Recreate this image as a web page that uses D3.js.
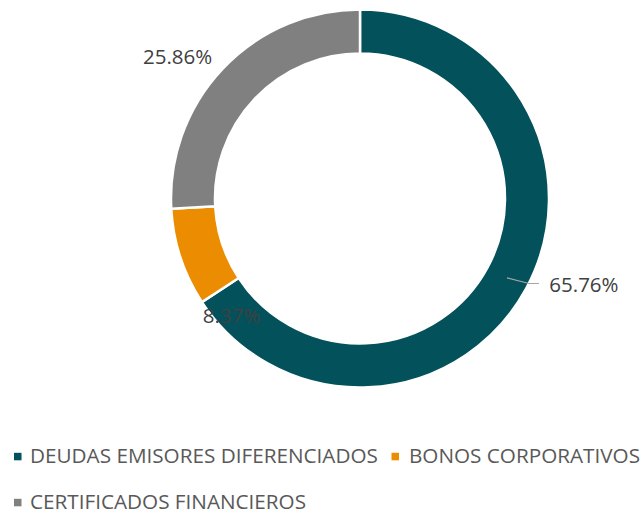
<!DOCTYPE html>
<html><head><meta charset="utf-8">
<script src="https://cdn.jsdelivr.net/npm/d3@7"></script>
<style>body{margin:0;background:#fff}svg{display:block}</style>
</head><body>
<script>
const categories = ["DEUDAS EMISORES DIFERENCIADOS", "BONOS CORPORATIVOS", "CERTIFICADOS FINANCIEROS"];
const values = [65.76, 8.37, 25.86];
const labels = ["65.76%", "8.37%", "25.86%"];
const colors = ["#03515b", "#ec8c00", "#808080"];

const W = 643, H = 514;
const svg = d3.select("body").append("svg").attr("width", W).attr("height", H);
const cx = 360, cy = 198.5, rOut = 189, rIn = 145;
const g = svg.append("g").attr("transform", `translate(${cx},${cy})`);
const pie = d3.pie().sort(null).value(d => d)(values);
const arc = d3.arc().innerRadius(rIn).outerRadius(rOut);
g.selectAll("path").data(pie).join("path")
  .attr("d", arc).attr("fill", (d, i) => colors[i])
  .attr("stroke", "#fff").attr("stroke-width", 2.5);

const font = "'Open Sans', sans-serif";
// leader line for first label
const a0 = (pie[0].startAngle + pie[0].endAngle) / 2;
const midR = (rIn + rOut) / 2;
const p1 = [midR * Math.sin(a0), -midR * Math.cos(a0)];
g.append("polyline")
  .attr("points", [p1, [169, 85], [179, 85]].map(p => p.join(",")).join(" "))
  .attr("fill", "none").attr("stroke", "#a6a6a6").attr("stroke-width", 1.2);

const labelPos = [[189.3, 93.2], [-157.3, 124.8], [-217, -134.5]];
g.selectAll("text.lbl").data(labels).join("text").attr("class", "lbl")
  .attr("x", (d, i) => labelPos[i][0]).attr("y", (d, i) => labelPos[i][1])
  .attr("font-family", font).attr("font-size", 20.5).attr("fill", "#404040")
  .text(d => d);

// legend
const legPos = [[14, 463.3], [391.5, 463.3], [14, 509.3]];
const lg = svg.selectAll("g.leg").data(categories).join("g").attr("class", "leg")
  .attr("transform", (d, i) => `translate(${legPos[i][0]},${legPos[i][1]})`);
lg.append("rect").attr("x", 0).attr("y", -10.5).attr("width", 7.5).attr("height", 7.5)
  .attr("fill", (d, i) => colors[i]);
lg.append("text").attr("x", (d, i) => i === 1 ? 17.5 : 16).attr("y", 0)
  .attr("font-family", font).attr("font-size", 20.7).attr("fill", "#595959")
  .text(d => d);
</script>
</body></html>
